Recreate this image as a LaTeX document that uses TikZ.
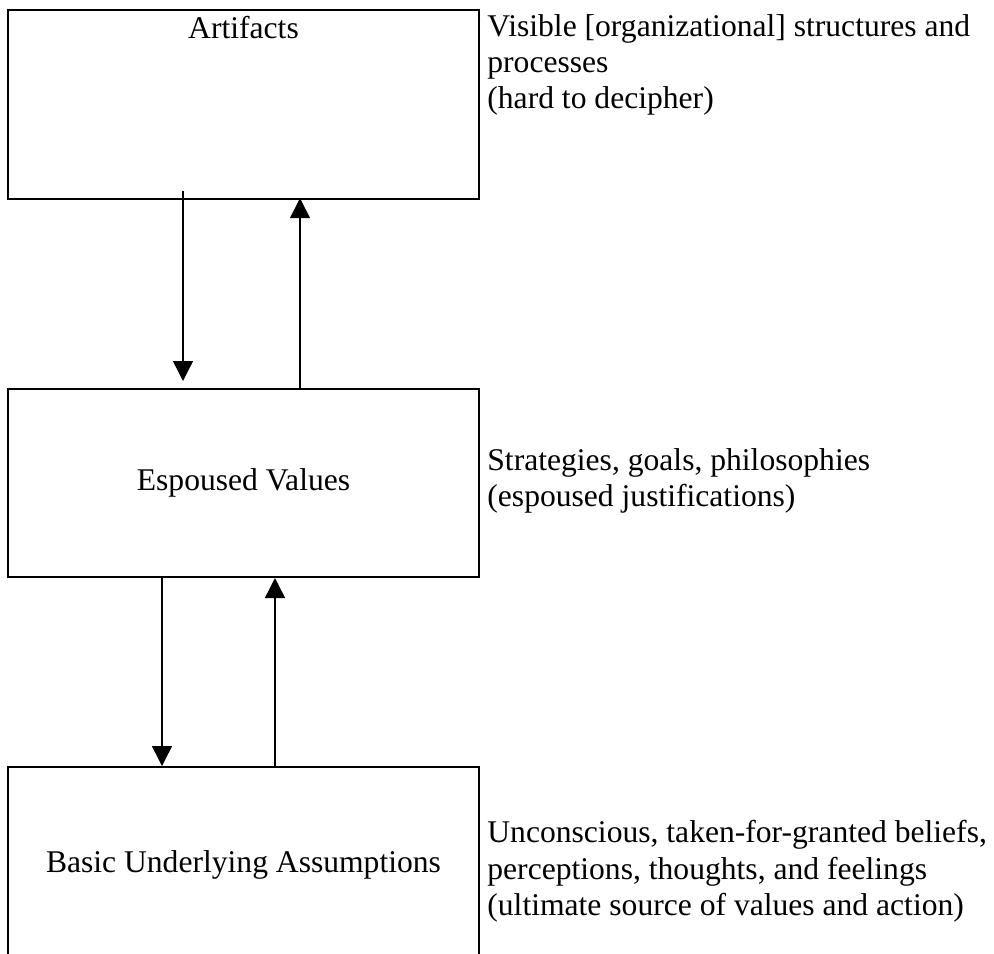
\documentclass[tikz,border=0pt]{standalone}
\usepackage{fontspec}
\setmainfont{Liberation Serif}
\usetikzlibrary{arrows.meta, positioning}

\tikzset{
	layerbox/.style={draw, line width=1pt, minimum width=235.5pt, inner sep=0pt},
	flow/.style={-{Triangle[width=10pt, length=10pt]}, line width=0.7pt},
	note/.style={anchor=base west, align=left, inner sep=0pt},
}

\begin{document}
\begin{tikzpicture}[x=0.5pt, y=-0.5pt, every node/.style={font=\fontsize{15.8}{18.15}\selectfont}]
	\useasboundingbox (0,0) rectangle (994,953);
	\clip (0,0) rectangle (994,953);
	% three layers
	\node[layerbox, minimum height=94.6pt] (artifacts) at (243.5,104.6) {};
	\node[anchor=base] (artifactstext) at (243.5,38) {Artifacts};
	\node[layerbox, minimum height=94pt] (values) at (243.5,483) {Espoused Values};
	\node[layerbox, minimum height=98pt] (assumptions) at (243.5,865) {Basic Underlying Assumptions};
	% arrows between layers
	\draw[flow] ([xshift=-30.25pt, yshift=4.5pt]artifacts.south) -- ([xshift=-30.25pt, yshift=3.5pt]values.north);
	\draw[flow] ([xshift=28.25pt]values.north) -- ([xshift=28.25pt, yshift=1pt]artifacts.south);
	\draw[flow] ([xshift=-40.75pt]values.south) -- ([xshift=-40.75pt]assumptions.north);
	\draw[flow] ([xshift=15.75pt]assumptions.north) -- ([xshift=15.75pt]values.south);
	% descriptions (base = last line)
	\node[note] (artifactsnote) at (487,108.6) {Visible [organizational] structures and\\processes\\(hard to decipher)};
	\node[note] (valuesnote) at (487,506.3) {Strategies, goals, philosophies\\(espoused justifications)};
	\node[note] (assumptionsnote) at (487,915.3) {Unconscious, taken-for-granted beliefs,\\perceptions, thoughts, and feelings\\(ultimate source of values and action)};
\end{tikzpicture}
\end{document}
